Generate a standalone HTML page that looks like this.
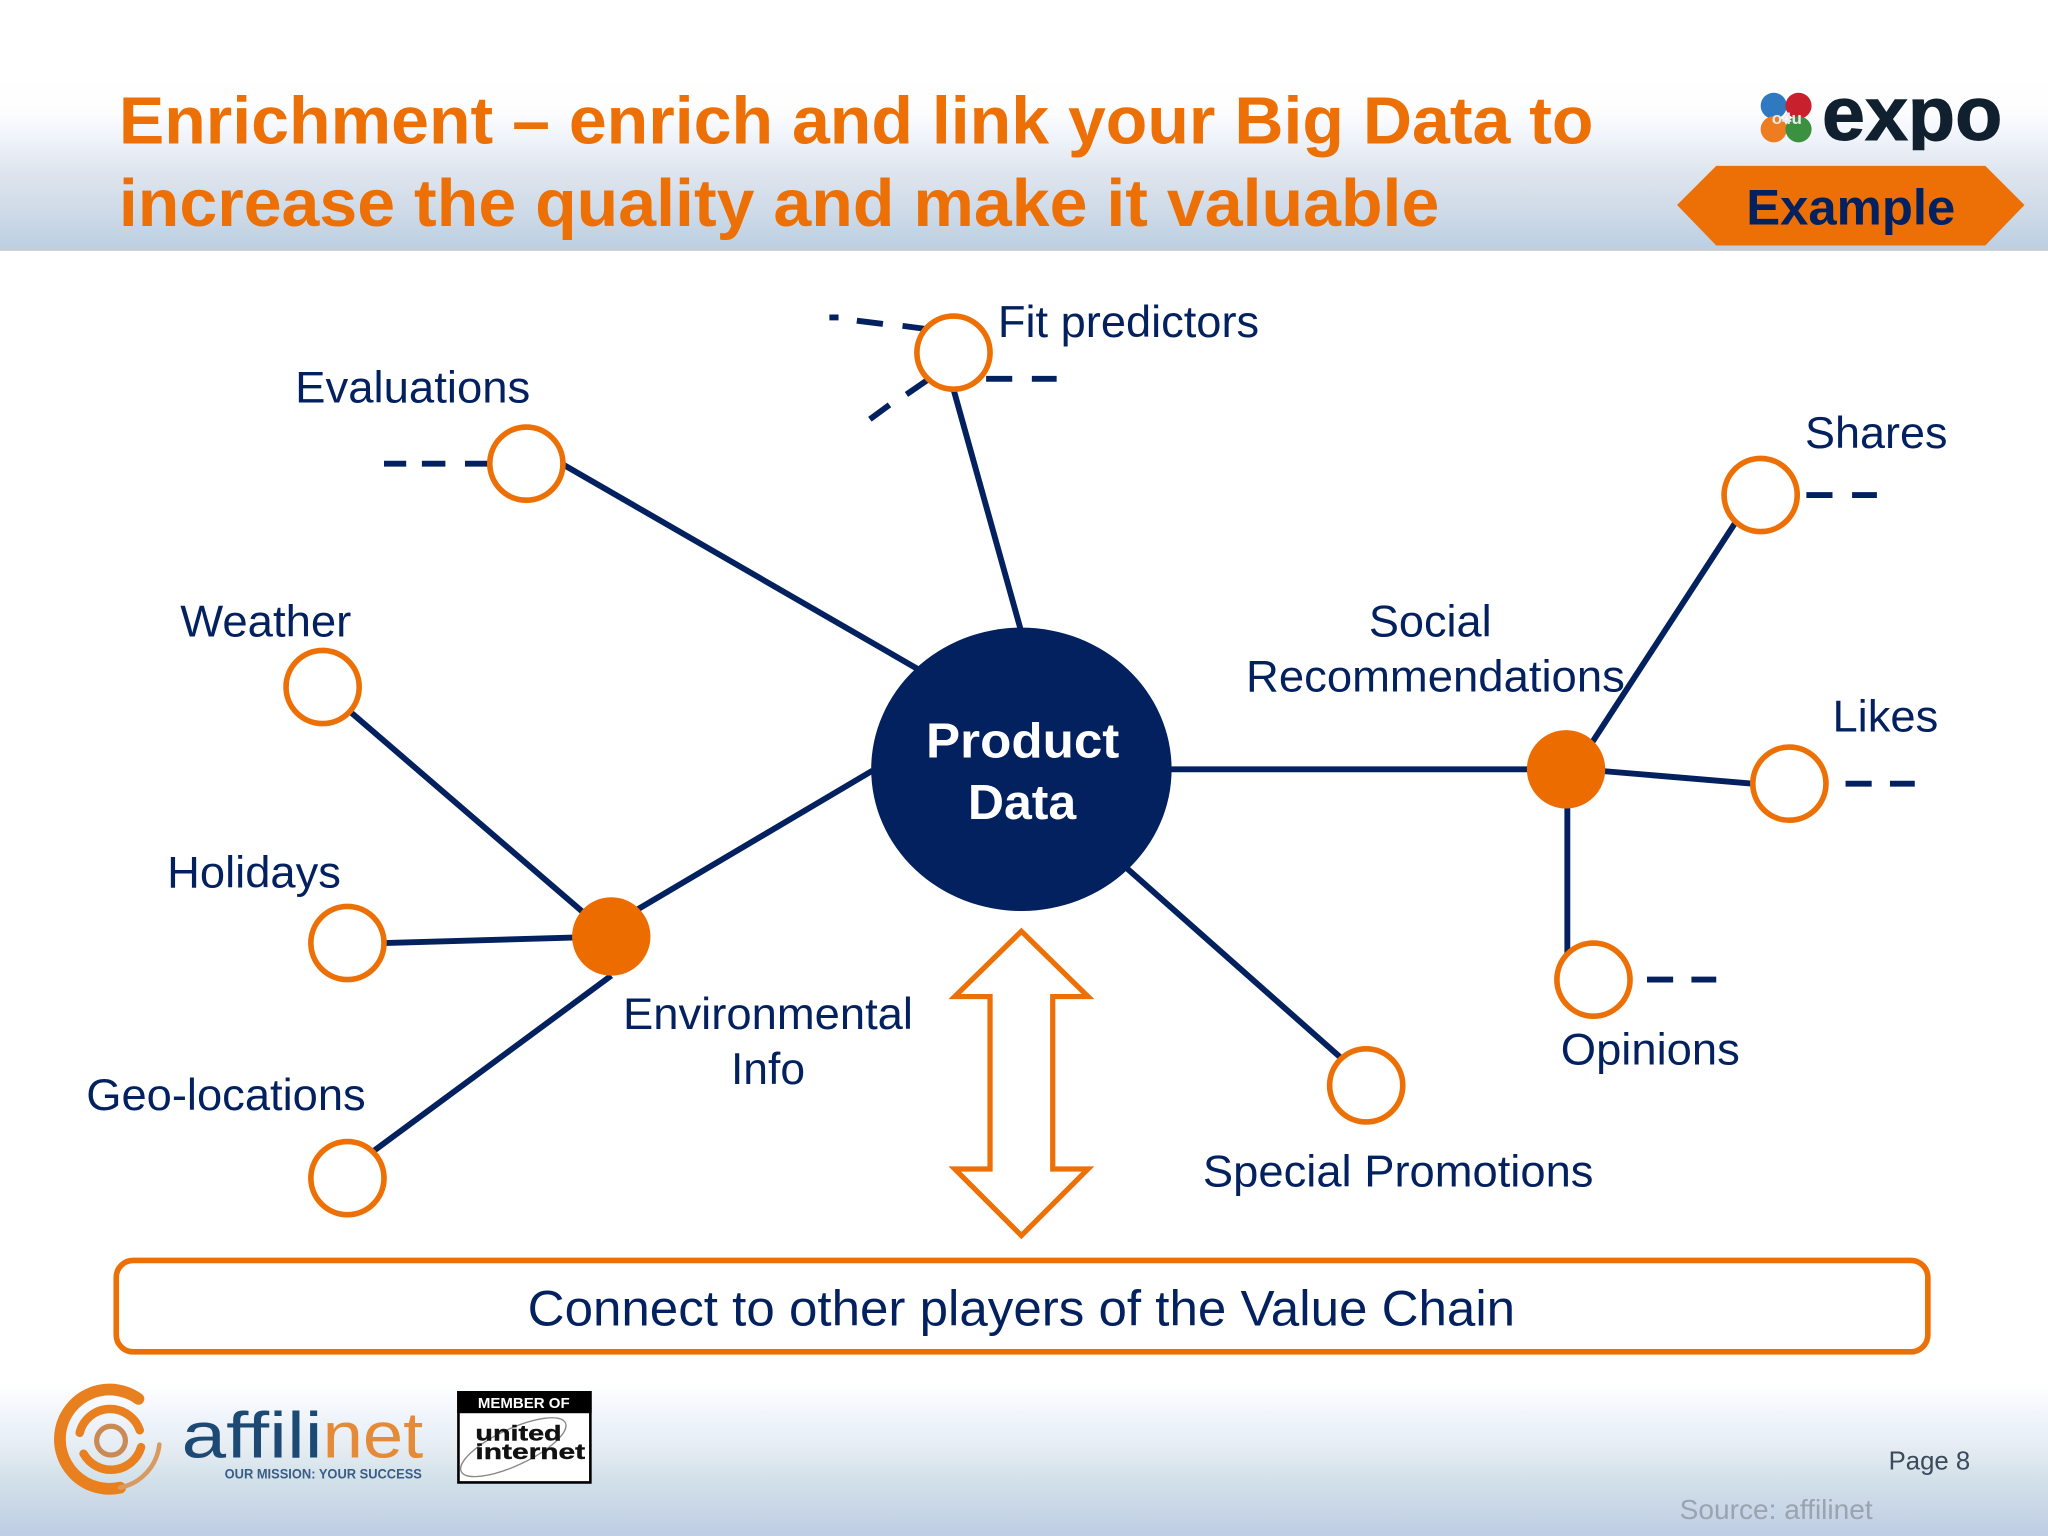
<!DOCTYPE html>
<html><head><meta charset="utf-8"><style>
html,body{margin:0;padding:0;background:#fff;width:2048px;height:1536px;overflow:hidden}
svg{display:block}
text{font-family:"Liberation Sans",sans-serif;fill:#03205f}
</style></head><body>
<svg xmlns="http://www.w3.org/2000/svg" width="2048" height="1536" viewBox="0 0 1568 1176">
<defs>
<linearGradient id="h" x1="0" y1="0" x2="0" y2="1"><stop offset="0" stop-color="#fff"/><stop offset=".2" stop-color="#fdfdfe"/><stop offset=".32" stop-color="#f2f6fc"/><stop offset=".55" stop-color="#dfe5ee"/><stop offset=".8" stop-color="#cddae7"/><stop offset="1" stop-color="#bccfe3"/></linearGradient>
<linearGradient id="f" x1="0" y1="0" x2="0" y2="1"><stop offset="0" stop-color="#fff"/><stop offset=".23" stop-color="#eff4fb"/><stop offset=".45" stop-color="#e3ebf1"/><stop offset=".6" stop-color="#d4e2ea"/><stop offset="1" stop-color="#bfcde5"/></linearGradient>
<clipPath id="ec"><rect x="1390" y="60" width="150" height="55"/></clipPath>
</defs>
<rect width="1568" height="1176" fill="#fff"/>
<rect y="60" width="1568" height="130" fill="url(#h)"/>
<rect y="190" width="1568" height="2" fill="#c4c9d3"/>
<rect y="1060" width="1568" height="116" fill="url(#f)"/>
<text x="91" y="110" font-size="51" font-weight="700" style="fill:#ec7005" textLength="1129" lengthAdjust="spacingAndGlyphs">Enrichment – enrich and link your Big Data to</text>
<text x="91" y="173" font-size="51" font-weight="700" style="fill:#ec7005" textLength="1011" lengthAdjust="spacingAndGlyphs">increase the quality and make it valuable</text>
<!-- expo logo -->
<circle cx="1358" cy="81" r="10" fill="#2f79c0"/><circle cx="1377" cy="81" r="10" fill="#c8202c"/><circle cx="1358" cy="99" r="10" fill="#ee7d22"/><circle cx="1377" cy="99" r="10" fill="#3b9140"/>
<text x="1368" y="95" font-size="13" font-weight="700" text-anchor="middle" style="fill:#e9e9ee">o4u</text>
<g clip-path="url(#ec)"><text x="1395" y="107" font-size="58" font-weight="700" style="fill:#10202e;stroke:#10202e;stroke-width:.8" textLength="138" lengthAdjust="spacingAndGlyphs">expo</text></g>
<polygon points="1284,157 1314,127 1520,127 1550,157 1520,188 1314,188" fill="#ec7005"/>
<text x="1417" y="172" font-size="38" font-weight="700" text-anchor="middle" textLength="160" lengthAdjust="spacingAndGlyphs">Example</text>
<!-- connectors -->
<g stroke="#03205f" stroke-width="4.5" fill="none">
<line x1="730" y1="298" x2="782" y2="484"/>
<line x1="430" y1="355" x2="704" y2="513"/>
<line x1="668" y1="590" x2="470" y2="707"/>
<line x1="267" y1="544" x2="468" y2="717"/>
<line x1="294" y1="722" x2="468" y2="717"/>
<line x1="285" y1="882" x2="468" y2="747"/>
<line x1="896" y1="589" x2="1199" y2="589"/>
<line x1="1216" y1="573" x2="1330" y2="398"/>
<line x1="1199" y1="588" x2="1342" y2="600"/>
<line x1="1200" y1="589" x2="1200" y2="730"/>
<line x1="863" y1="665" x2="1029" y2="812"/>
<path d="M635 243h7M656 245.500l20 2.500M691 249.500l19 2.500"/>
<path d="M755 290h20M790 290h19"/>
<path d="M710 291l-16 11M681 310l-15 11"/>
<path d="M294 355h17M323 355h18M356 355h20"/>
<path d="M1383 379h20M1418 379h19"/>
<path d="M1413 600h20M1447 600h19"/>
<path d="M1261 750h20M1295 750h19"/>
</g>
<!-- nodes -->
<g fill="#fff" stroke="#ec7005" stroke-width="4.3">
<circle cx="730" cy="270" r="28"/>
<circle cx="403" cy="355" r="28"/>
<circle cx="247" cy="526" r="28"/>
<circle cx="266" cy="722" r="28"/>
<circle cx="266" cy="902" r="28"/>
<circle cx="1348" cy="379" r="28"/>
<circle cx="1370" cy="600" r="28"/>
<circle cx="1220" cy="750" r="28"/>
<circle cx="1046" cy="831" r="28"/>
</g>
<ellipse cx="782" cy="589" rx="115" ry="108.500" fill="#03205f"/>
<circle cx="468" cy="717" r="30" fill="#ec6c00"/>
<circle cx="1199" cy="589" r="30" fill="#ec6c00"/>
<text x="783" y="580" font-size="37.500" font-weight="700" text-anchor="middle" style="fill:#fff" textLength="148" lengthAdjust="spacingAndGlyphs">Product</text>
<text x="782.500" y="627" font-size="37.500" font-weight="700" text-anchor="middle" style="fill:#fff" textLength="83" lengthAdjust="spacingAndGlyphs">Data</text>
<!-- labels -->
<g font-size="34">
<text x="764" y="258" textLength="200" lengthAdjust="spacingAndGlyphs">Fit predictors</text>
<text x="226" y="308" textLength="180" lengthAdjust="spacingAndGlyphs">Evaluations</text>
<text x="138" y="487.500" textLength="131" lengthAdjust="spacingAndGlyphs">Weather</text>
<text x="128" y="679.500" textLength="133" lengthAdjust="spacingAndGlyphs">Holidays</text>
<text x="66" y="850" textLength="214" lengthAdjust="spacingAndGlyphs">Geo-locations</text>
<text x="477" y="788" textLength="222" lengthAdjust="spacingAndGlyphs">Environmental</text>
<text x="588" y="830" text-anchor="middle">Info</text>
<text x="1048" y="487.500" textLength="94" lengthAdjust="spacingAndGlyphs">Social</text>
<text x="954" y="529.500" textLength="290" lengthAdjust="spacingAndGlyphs">Recommendations</text>
<text x="1382" y="343" textLength="109" lengthAdjust="spacingAndGlyphs">Shares</text>
<text x="1403" y="560" textLength="81" lengthAdjust="spacingAndGlyphs">Likes</text>
<text x="1195" y="815" textLength="137" lengthAdjust="spacingAndGlyphs">Opinions</text>
<text x="921" y="908.500" textLength="299" lengthAdjust="spacingAndGlyphs">Special Promotions</text>
</g>
<polygon points="782,713 833,763 806,763 806,895 833,895 782,946 731,895 758,895 758,763 731,763" fill="#fff" stroke="#ec7005" stroke-width="4"/>
<rect x="89" y="965" width="1387" height="70" rx="13" fill="#fff" stroke="#ec7005" stroke-width="4.300"/>
<text x="782" y="1015" font-size="38" text-anchor="middle" textLength="756" lengthAdjust="spacingAndGlyphs">Connect to other players of the Value Chain</text>
<!-- affilinet logo -->
<g fill="none" stroke="#e8801f" stroke-linecap="round">
<path d="M106 1071 A38 38 0 1 0 92 1139" stroke-width="9"/>
<path d="M92 1139 A38 38 0 0 0 122 1106" stroke-width="3.500" stroke="#d99a5f"/>
<path d="M61 1097 A24 24 0 0 1 107 1095" stroke-width="6.500"/>
<path d="M64 1113 A24 24 0 0 0 108 1108" stroke-width="6.500"/>
<circle cx="85" cy="1103" r="11" stroke-width="4" stroke="#c98a55"/>
</g>
<text x="139" y="1116" font-size="50" style="fill:#1d4a74" textLength="108" lengthAdjust="spacingAndGlyphs">affili</text>
<text x="247" y="1116" font-size="50" style="fill:#e58a36" textLength="77" lengthAdjust="spacingAndGlyphs">net</text>
<text x="172" y="1132" font-size="10.500" font-weight="700" style="fill:#3a5d85" textLength="151" lengthAdjust="spacingAndGlyphs">OUR MISSION: YOUR SUCCESS</text>
<rect x="351" y="1066" width="101" height="69" fill="#fff" stroke="#000" stroke-width="2"/>
<rect x="350" y="1065" width="103" height="17" fill="#000"/>
<text x="401" y="1078" font-size="11.500" font-weight="700" text-anchor="middle" style="fill:#fff">MEMBER OF</text>
<ellipse cx="393" cy="1108" rx="44" ry="14" transform="rotate(-25 393 1108)" fill="none" stroke="#888" stroke-width="1"/>
<text x="364" y="1103" font-size="16" font-weight="700" style="fill:#111;stroke:#111;stroke-width:.3" textLength="66" lengthAdjust="spacingAndGlyphs">united</text>
<text x="364" y="1117" font-size="16" font-weight="700" style="fill:#111;stroke:#111;stroke-width:.3" textLength="84" lengthAdjust="spacingAndGlyphs">internet</text>
<text x="1446" y="1125" font-size="19.700" style="fill:#3b4a5c">Page 8</text>
<text x="1286" y="1163" font-size="21.500" style="fill:#9aa3ae">Source: affilinet</text>
</svg>
</body></html>
